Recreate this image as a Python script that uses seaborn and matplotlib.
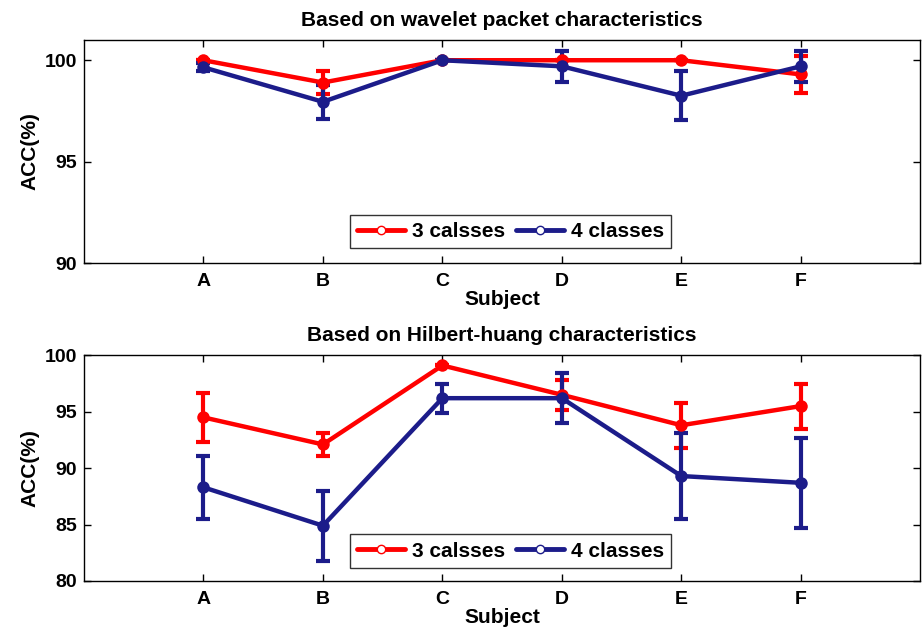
import numpy as np
import pandas as pd
import seaborn as sns
import matplotlib
matplotlib.use("Agg")
import matplotlib.pyplot as plt
from matplotlib.lines import Line2D

subjects = ["A", "B", "C", "D", "E", "F"]
series = ["3 calsses", "4 classes"]

wp_3 = [100.0, 98.9, 100.0, 100.0, 100.0, 99.3]
wp_3_err = [0.0, 0.55, 0.0, 0.0, 0.0, 0.9]
wp_4 = [99.65, 97.95, 100.0, 99.7, 98.25, 99.7]
wp_4_err = [0.2, 0.85, 0.0, 0.75, 1.2, 0.75]

hh_3 = [94.5, 92.1, 99.1, 96.5, 93.8, 95.5]
hh_3_err = [2.2, 1.0, 0.0, 1.35, 2.0, 2.0]
hh_4 = [88.3, 84.9, 96.2, 96.2, 89.3, 88.7]
hh_4_err = [2.8, 3.1, 1.3, 2.2, 3.8, 4.0]

titles = ["Based on wavelet packet characteristics", "Based on Hilbert-huang characteristics"]
ylims = [(90, 101), (80, 100)]
yticks = [[90, 95, 100], [80, 85, 90, 95, 100]]

sns.set_theme(style="ticks")
plt.rcParams["font.family"] = ["Liberation Sans", "DejaVu Sans"]
plt.rcParams["font.weight"] = "bold"
for k in ["text.color", "axes.labelcolor", "xtick.color", "ytick.color"]:
    plt.rcParams[k] = "black"

colors = {"3 calsses": "#ff0000", "4 classes": "#1c1c8a"}

fig = plt.figure(figsize=(9.23, 6.34), dpi=100)
ax1 = fig.add_axes([0.091, 0.585, 0.906, 0.352])
ax2 = fig.add_axes([0.091, 0.0836, 0.906, 0.356])

panels = [
    (ax1, wp_3, wp_3_err, wp_4, wp_4_err, 0.067),
    (ax2, hh_3, hh_3_err, hh_4, hh_4_err, 0.058),
]

xpos = np.arange(1, len(subjects) + 1)

for i, (ax, v3, e3, v4, e4, ly) in enumerate(panels):
    df = pd.DataFrame({
        "x": np.concatenate([xpos, xpos]),
        "acc": v3 + v4,
        "err": e3 + e4,
        "series": [series[0]] * 6 + [series[1]] * 6,
    })
    for s in series:
        d = df[df["series"] == s]
        ax.errorbar(d["x"], d["acc"], yerr=d["err"], fmt="none",
                     ecolor=colors[s], elinewidth=3, capsize=5, capthick=3, zorder=2)
    sns.lineplot(data=df, x="x", y="acc", hue="series", palette=colors,
                 marker="o", markersize=9, markeredgewidth=0, linewidth=3.2,
                 ax=ax, legend=False, zorder=3)
    ax.set_xlim(0, 7)
    ax.set_ylim(*ylims[i])
    ax.set_xticks(xpos)
    ax.set_xticklabels(subjects)
    ax.set_yticks(yticks[i])
    ax.set_xlabel("Subject", fontsize=15, fontweight="bold", labelpad=0)
    ax.set_ylabel("ACC(%)", fontsize=15, fontweight="bold", labelpad=4)
    ax.set_title(titles[i], fontsize=15, fontweight="bold", pad=10)
    ax.tick_params(axis="both", direction="in", top=True, right=True,
                   labelsize=14, length=5, width=1, pad=5)
    ax.tick_params(axis="x", pad=7)
    for lbl in ax.get_xticklabels() + ax.get_yticklabels():
        lbl.set_fontweight("bold")
    for sp in ax.spines.values():
        sp.set_linewidth(1)
        sp.set_color("black")
    handles = [Line2D([0], [0], color=colors[s], lw=3.5, marker="o",
                      markerfacecolor="white", markeredgecolor=colors[s],
                      markersize=6) for s in series]
    leg = ax.legend(handles, series, loc="lower center", ncol=2,
                    fontsize=15, frameon=True, fancybox=False,
                    edgecolor="black", handlelength=2.3, columnspacing=0.5,
                    handletextpad=0.35, borderpad=0.35, borderaxespad=0,
                    bbox_to_anchor=(0.51, ly))
    for t in leg.get_texts():
        t.set_fontweight("bold")
    leg.get_frame().set_linewidth(1)

fig.savefig("out.png", dpi=100)
